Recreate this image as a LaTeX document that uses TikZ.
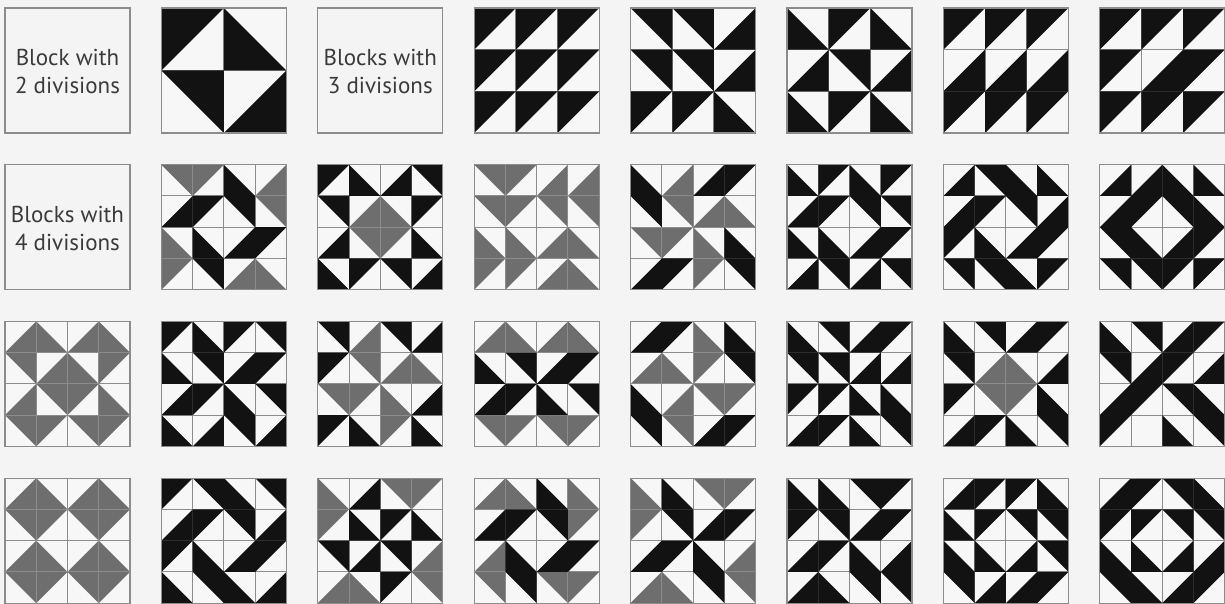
\documentclass[tikz,border=0pt]{standalone}
\usepackage{fontspec}
\setmainfont{PT Sans}
\definecolor{qblack}{HTML}{121212}
\definecolor{qgray}{HTML}{6E6E6E}
\definecolor{qline}{HTML}{8C8C8C}
\definecolor{qbg}{HTML}{F4F4F4}
\definecolor{qtext}{HTML}{3A3A3A}
\newcommand\qul[3]{\fill[#3] (#1,#2) -- ({#1+1},#2) -- (#1,{#2+1}) -- cycle;}
\newcommand\qur[3]{\fill[#3] (#1,#2) -- ({#1+1},#2) -- ({#1+1},{#2+1}) -- cycle;}
\newcommand\qll[3]{\fill[#3] (#1,#2) -- (#1,{#2+1}) -- ({#1+1},{#2+1}) -- cycle;}
\newcommand\qlr[3]{\fill[#3] ({#1+1},#2) -- ({#1+1},{#2+1}) -- (#1,{#2+1}) -- cycle;}
\newcommand\qblock[5]{%
  \begin{scope}[shift={(#1,#2)}]
    \pgfmathsetmacro\qcs{62.5/#3}
    \pgfmathtruncatemacro\qm{#3-1}
    \begin{scope}[x=\qcs pt,y=-\qcs pt]
      \fill[qwhite] (0,0) rectangle (#3,#3);
      \if\relax\detokenize{#4}\relax\else
        \foreach \qr/\qc/\qk in {#4} {\csname q\qk\endcsname{\qc}{\qr}{qgrayfill}}
      \fi
      \foreach \qi in {1,...,\qm} {
        \draw[qgrid] (\qi,0) -- (\qi,#3);
        \draw[qgrid] (0,\qi) -- (#3,\qi);
      }
      \if\relax\detokenize{#5}\relax\else
        \foreach \qr/\qc/\qk in {#5} {\csname q\qk\endcsname{\qc}{\qr}{qblackfill}}
      \fi
      \draw[qframe] (0,0) rectangle (#3,#3);
    \end{scope}
  \end{scope}}
\tikzset{
  qwhite/.style={fill=white!97!black},
  qgrayfill/.style={fill=qgray},
  qblackfill/.style={fill=qblack},
  qgrid/.style={draw=qline,line width=0.5pt},
  qframe/.style={draw=qline,line width=0.6pt},
  qlabel/.style={align=center,text=qtext,font=\fontsize{11.5}{14}\selectfont,inner sep=0pt}
}
\begin{document}
\begin{tikzpicture}[x=0.5pt,y=-0.5pt]
\fill[qbg] (0,0) rectangle (1225,604);
\useasboundingbox (0,0) rectangle (1225,604);
% text boxes
\draw[qframe] (5,8) rectangle ++(125,125);
\node[qlabel] (t2) at (67.5,71) {Block with\\2 divisions};
\draw[qframe] (317.8,8) rectangle ++(125,125);
\node[qlabel] (t3) at (380.3,71) {Blocks with\\3 divisions};
\draw[qframe] (5,164.7) rectangle ++(125,125);
\node[qlabel] (t4) at (67.5,228) {Blocks with\\4 divisions};
% row 1
\qblock{161.4}{8}{2}{}{0/0/ul,0/1/ll,1/0/ur,1/1/lr}
\qblock{474.2}{8}{3}{}{0/0/ul,0/1/ul,0/2/ul,1/0/ul,1/1/ul,1/2/ul,2/0/ul,2/1/ul,2/2/ul}
\qblock{630.6}{8}{3}{}{0/0/ur,0/1/ur,0/2/lr,1/0/ur,1/1/ur,1/2/lr,2/0/ul,2/1/ul,2/2/ll}
\qblock{787}{8}{3}{}{0/0/ll,0/1/ul,0/2/ll,1/0/lr,1/1/ur,1/2/lr,2/0/ll,2/1/ul,2/2/ll}
\qblock{943.4}{8}{3}{}{0/0/ul,0/1/ul,0/2/ul,1/0/lr,1/1/lr,1/2/lr,2/0/ul,2/1/ul,2/2/ul}
\qblock{1099.8}{8}{3}{}{0/0/ul,0/1/ul,0/2/ul,1/0/ul,1/1/lr,1/2/ul,2/0/ul,2/1/ul,2/2/ul}
% row 2
\qblock{161.4}{164.7}{4}{0/0/ur,0/1/ul,0/3/lr,1/3/ur,2/0/ll,3/0/ul,3/2/lr,3/3/ll}{0/2/ll,1/0/lr,1/1/ul,1/2/ur,2/1/ll,2/2/lr,2/3/ul,3/1/ur}
\qblock{317.8}{164.7}{4}{1/1/lr,1/2/ll,2/1/ur,2/2/ul}{0/0/ul,0/1/ll,0/2/lr,0/3/ur,1/0/ur,1/3/ul,2/0/lr,2/3/ll,3/0/ll,3/1/ul,3/2/ur,3/3/lr}
\qblock{474.2}{164.7}{4}{0/0/ur,0/1/ul,1/0/ur,1/1/ul,0/2/lr,1/2/ur,0/3/lr,1/3/ur,2/2/lr,2/3/ll,3/2/lr,3/3/ll,2/0/ll,3/0/ul,2/1/ll,3/1/ul}{}
\qblock{630.6}{164.7}{4}{0/1/lr,1/1/ur,1/2/lr,1/3/ll,2/0/ur,2/1/ul,2/2/ll,3/2/ul}{0/0/ll,0/2/lr,0/3/ul,1/0/ur,2/3/ll,3/0/lr,3/1/ul,3/3/ur}
\qblock{787}{164.7}{4}{}{0/0/ll,0/1/ul,0/2/ll,0/3/ul,1/0/lr,1/1/ul,1/2/ur,1/3/ur,2/0/ll,2/1/ll,2/2/lr,2/3/ul,3/0/lr,3/1/ur,3/2/lr,3/3/ur}
\qblock{943.4}{164.7}{4}{}{0/0/lr,0/1/ur,0/2/ll,0/3/ll,1/0/lr,1/1/ul,1/2/ur,1/3/lr,2/0/ul,2/1/ll,2/2/lr,2/3/ul,3/0/ur,3/1/ur,3/2/ll,3/3/ul}
\qblock{1099.8}{164.7}{4}{}{0/0/lr,0/1/lr,0/2/ll,0/3/ll,1/0/lr,1/1/ul,1/2/ur,1/3/ll,2/0/ur,2/1/ll,2/2/lr,2/3/ul,3/0/ur,3/1/ur,3/2/ul,3/3/ul}
% row 3
\qblock{5}{321.4}{4}{0/0/lr,0/1/ll,0/2/lr,0/3/ll,1/0/ur,1/1/lr,1/2/ll,1/3/ul,2/0/lr,2/1/ur,2/2/ul,2/3/ll,3/0/ur,3/1/ul,3/2/ur,3/3/ul}{}
\qblock{161.4}{321.4}{4}{}{0/0/ul,0/1/ll,0/2/ul,0/3/ur,1/0/ll,1/1/ur,1/2/lr,1/3/ul,2/0/lr,2/1/ul,2/2/ll,2/3/ur,3/0/ll,3/1/lr,3/2/ur,3/3/lr}
\qblock{317.8}{321.4}{4}{0/1/lr,1/1/ur,1/2/lr,1/3/ll,2/0/ur,2/1/ul,2/2/ll,3/2/ul}{0/0/ur,0/2/ur,0/3/lr,1/0/ul,2/3/lr,3/0/ul,3/1/ll,3/3/ll}
\qblock{474.2}{321.4}{4}{0/0/lr,0/1/ll,0/2/lr,0/3/ll,3/0/ur,3/1/ul,3/2/ur,3/3/ul}{1/0/ll,1/1/ur,1/2/lr,1/3/ul,2/0/lr,2/1/ul,2/2/ll,2/3/ur}
\qblock{630.6}{321.4}{4}{0/2/ll,1/0/lr,1/1/ll,1/2/ul,2/1/lr,2/2/ur,2/3/ul,3/1/ur}{0/0/lr,0/1/ul,0/3/ll,1/3/ur,2/0/ll,3/0/ur,3/2/lr,3/3/ul}
\qblock{787}{321.4}{4}{}{0/0/ll,0/1/ur,0/2/lr,0/3/ul,1/0/ur,1/1/ur,1/2/lr,1/3/lr,2/0/ul,2/1/ul,2/2/ll,2/3/ll,3/0/lr,3/1/ul,3/2/ll,3/3/ur}
\qblock{943.4}{321.4}{4}{1/1/lr,1/2/ll,2/1/ur,2/2/ul}{0/0/ll,0/1/ur,0/2/lr,0/3/ul,1/0/ur,1/3/lr,2/0/ul,2/3/ll,3/0/lr,3/1/ul,3/2/ll,3/3/ur}
\qblock{1099.8}{321.4}{4}{}{0/3/ul,0/2/lr,1/2/ul,1/1/lr,2/1/ul,2/0/lr,3/0/ul,0/0/ll,1/0/ur,2/2/ur,2/3/ll,3/3/ur,0/1/ur,1/3/lr,3/2/ll}
% row 4
\qblock{5}{478.1}{4}{0/0/lr,0/1/ll,1/0/ur,1/1/ul,0/2/lr,0/3/ll,1/2/ur,1/3/ul,2/0/lr,2/1/ll,3/0/ur,3/1/ul,2/2/lr,2/3/ll,3/2/ur,3/3/ul}{}
\qblock{161.4}{478.1}{4}{}{0/0/ul,0/1/ur,0/2/ll,0/3/ur,1/0/lr,1/1/ul,1/2/ur,1/3/lr,2/0/ul,2/1/ll,2/2/lr,2/3/ul,3/0/ll,3/1/ur,3/2/ll,3/3/lr}
\qblock{317.8}{478.1}{4}{0/0/ll,1/0/ul,0/2/ur,0/3/ul,2/3/lr,3/3/ur,3/0/lr,3/1/ll}{0/1/lr,1/3/ll,3/2/ul,2/0/ur,1/1/ll,1/2/ul,2/2/ur,2/1/lr}
\qblock{474.2}{478.1}{4}{0/0/lr,0/1/ll,0/3/ll,1/3/ul,3/3/ul,3/2/ur,3/0/ur,2/0/lr}{0/2/ll,1/0/lr,1/1/ul,1/2/ur,2/1/ll,2/2/lr,2/3/ul,3/1/ur}
\qblock{630.6}{478.1}{4}{0/0/ll,1/0/ul,0/2/ur,0/3/ul,2/3/lr,3/3/ur,3/0/lr,3/1/ll}{0/1/ll,1/1/ur,1/2/lr,1/3/ul,2/2/ll,3/2/ur,2/1/ul,2/0/lr}
\qblock{787}{478.1}{4}{}{0/0/ll,1/0/ul,0/2/ur,0/3/ul,2/3/lr,3/3/ur,3/0/lr,3/1/ll,0/1/ll,1/1/ur,1/2/lr,1/3/ul,2/2/ll,3/2/ur,2/1/ul,2/0/lr}
\qblock{943.4}{478.1}{4}{}{0/0/lr,0/1/ul,0/2/ul,0/3/ll,1/0/ll,1/1/ul,1/2/ur,1/3/ur,2/0/ll,2/1/ll,2/2/lr,2/3/ur,3/0/ur,3/1/lr,3/2/lr,3/3/ul}
\qblock{1099.8}{478.1}{4}{}{0/0/lr,0/1/ul,0/2/ur,0/3/ll,1/0/ul,1/1/ul,1/2/ur,1/3/ur,2/0/ll,2/1/ll,2/2/lr,2/3/lr,3/0/ur,3/1/ll,3/2/lr,3/3/ul}
\end{tikzpicture}
\end{document}
